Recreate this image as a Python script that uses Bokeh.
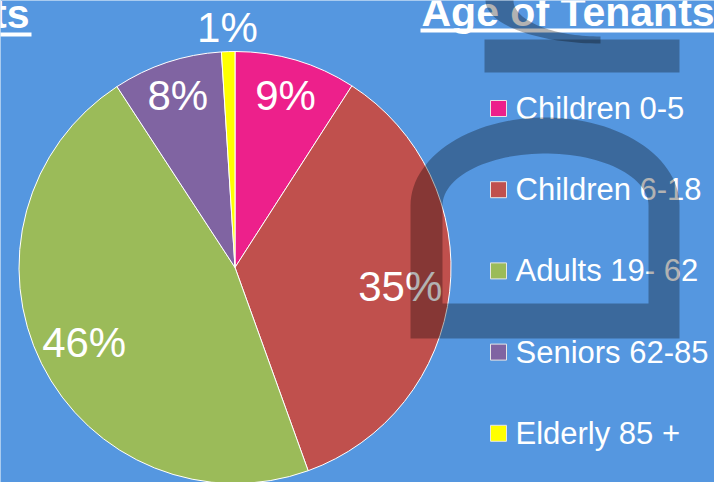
import numpy as np
from bokeh.plotting import figure
from bokeh.models import Range1d
from bokeh.core.properties import value
from bokeh.embed import file_html
from bokeh.resources import INLINE

# ---- data ----
categories = ["Children 0-5", "Children 6-18", "Adults 19- 62", "Seniors 62-85", "Elderly 85 +"]
shares = [9.1, 35.4, 46.3, 8.2, 1.0]
colors = ["#ED208B", "#C0504D", "#9BBB59", "#8064A2", "#FFFF00"]
title_text = "Age of Tenants"

# ---- layout / style ----
W, H = 714, 482
BG = "#5597E0"
FONT = value("Liberation Sans")
label_radius_factor = [0.83, 0.77, 0.78, 0.84, 1.11]


def sy(y):
    """screen y (down) -> data y (up)"""
    return H - np.asarray(y, dtype=float)


p = figure(width=W, height=H, x_range=Range1d(0, W), y_range=Range1d(0, H),
           output_backend="svg", toolbar_location=None, min_border=0,
           x_axis_type=None, y_axis_type=None)
p.grid.visible = False
p.outline_line_color = None
p.background_fill_color = BG
p.border_fill_color = BG

# ---- pie ----
cx, cy, R = 234.5, float(sy(267)), 216.0
frac = np.array(shares) / np.sum(shares)
cum = np.concatenate([[0.0], np.cumsum(frac)])
start = np.pi / 2 - 2 * np.pi * cum[:-1]
end = np.pi / 2 - 2 * np.pi * cum[1:]
p.wedge(x=[cx] * len(shares), y=[cy] * len(shares), radius=R,
        start_angle=list(start), end_angle=list(end), direction="clock",
        fill_color=colors, line_color="white", line_width=1)

mid = np.pi / 2 - 2 * np.pi * (cum[:-1] + cum[1:]) / 2
rf = np.array(label_radius_factor)
lx = cx + R * rf * np.cos(mid)
ly = cy + R * rf * np.sin(mid)
labels = [f"{round(s)}%" for s in shares]
p.text(x=list(lx), y=list(ly), text=labels, text_color="white", text_font=FONT,
       text_font_size="42px", text_align="center", text_baseline="middle")

# ---- legend ----
row_y = sy(108 + 81.2 * np.arange(len(categories)))
p.rect(x=[498] * len(categories), y=list(row_y), width=16, height=16,
       fill_color=colors, line_color="#E6E6E6", line_width=1)
p.text(x=[515] * len(categories), y=list(row_y), text=categories, text_color="white",
       text_font=FONT, text_font_size="31px", text_align="left", text_baseline="middle")

# ---- titles ----
p.text(x=[421], y=[float(sy(11))], text=[title_text], text_color="white", text_font=FONT,
       text_font_style="bold", text_font_size="41px", text_align="left",
       text_baseline="middle")
p.quad(left=[420], right=[720], top=[float(sy(28))], bottom=[float(sy(32))],
       fill_color="white", line_color=None)
p.text(x=[29], y=[float(sy(13))], text=[title_text], text_color="white", text_font=FONT,
       text_font_style="bold", text_font_size="41px", text_align="right",
       text_baseline="middle")
p.quad(left=[-10], right=[31], top=[float(sy(32))], bottom=[float(sy(36))],
       fill_color="white", line_color=None)

# ---- watermark overlay (decoration) ----
OV = dict(fill_color="black", fill_alpha=0.3, line_color=None)
# top bar
p.quad(left=[484], right=[679], top=[float(sy(39))], bottom=[float(sy(72))], **OV)
# loop shape
t = np.linspace(0, np.pi, 60)
ocx, ocy = 544.5, 205.0
ox = np.concatenate([[410, 679], ocx + 134.5 * np.cos(t)])
oy = np.concatenate([[338, 338], ocy - 88 * np.sin(t)])
ix = np.concatenate([[442, 648], 545 + 103 * np.cos(t)])
iy = np.concatenate([[303, 303], ocy - 52 * np.sin(t)])
p.multi_polygons(xs=[[[list(ox), list(ix)]]], ys=[[[list(sy(oy)), list(sy(iy))]]], **OV)

# hook
a = np.radians(np.linspace(175, 270, 40))
hx = np.concatenate([600 + 115 * np.cos(a), (600 + 87 * np.cos(a))[::-1]])
hy = np.concatenate([-43 * np.sin(a), (-36 * np.sin(a))[::-1]])
p.patch(list(hx), list(sy(hy)), **OV)

open("out.html", "w").write(file_html(p, INLINE))
